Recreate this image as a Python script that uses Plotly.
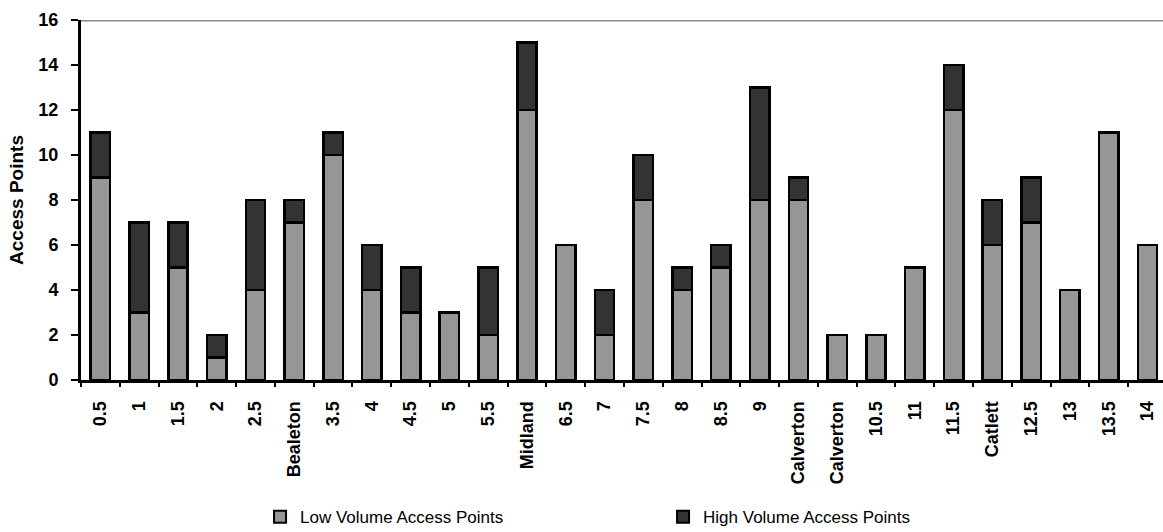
import plotly.graph_objects as go

# Mile markers / place names along the corridor
categories = ["0.5", "1", "1.5", "2", "2.5", "Bealeton", "3.5", "4", "4.5", "5",
              "5.5", "Midland", "6.5", "7", "7.5", "8", "8.5", "9", "Calverton",
              "Calverton", "10.5", "11", "11.5", "Catlett", "12.5", "13", "13.5", "14"]
low_volume = [9, 3, 5, 1, 4, 7, 10, 4, 3, 3, 2, 12, 6, 2, 8, 4, 5, 8, 8, 2, 2, 5, 12, 6, 7, 4, 11, 6]
high_volume = [2, 4, 2, 1, 4, 1, 1, 2, 2, 0, 3, 3, 0, 2, 2, 1, 1, 5, 1, 0, 0, 0, 2, 2, 2, 0, 0, 0]
y_ticks = [0, 2, 4, 6, 8, 10, 12, 14, 16]

pos = list(range(len(categories)))
font_family = "Liberation Sans, Arial, sans-serif"
bold = dict(family=font_family, size=18, color="black", weight="bold")

fig = go.Figure()
fig.add_trace(go.Bar(
    x=pos, y=low_volume, name="Low Volume Access Points",
    marker=dict(color="#969696", line=dict(color="black", width=2.5)),
    width=0.5,
))
fig.add_trace(go.Bar(
    x=pos, y=high_volume, name="High Volume Access Points",
    marker=dict(color="#333333", line=dict(color="black", width=2.5)),
    width=0.5,
))
# invisible helper trace so the boundary-tick axis is drawn
fig.add_trace(go.Scatter(x=[pos[0]], y=[0], xaxis="x2", mode="markers",
                         marker=dict(opacity=0), showlegend=False, hoverinfo="skip"))

x_range = [-0.5, len(categories) - 0.6]

fig.update_layout(
    barmode="stack",
    width=1163, height=532,
    margin=dict(l=81, r=0, t=20, b=152),
    plot_bgcolor="white", paper_bgcolor="white",
    font=dict(family=font_family, size=17, color="black"),
    xaxis=dict(
        range=x_range, tickmode="array", tickvals=pos, ticktext=categories,
        tickangle=-90, ticks="", showgrid=False, zeroline=False,
        showline=True, linecolor="black", linewidth=3,
        tickfont=bold, ticklabelstandoff=11, automargin=False,
    ),
    xaxis2=dict(
        overlaying="x", anchor="y", matches="x", range=x_range,
        tickmode="array", tickvals=[p - 0.5 for p in pos] + [pos[-1] + 0.5],
        showticklabels=False, ticks="outside", ticklen=6, tickwidth=2, tickcolor="black",
        showgrid=False, zeroline=False, showline=False,
    ),
    yaxis=dict(
        range=[0, 16], tickmode="array", tickvals=y_ticks,
        ticks="outside", ticklen=7, tickwidth=2, tickcolor="black",
        showgrid=False, zeroline=False, automargin=False,
        showline=True, linecolor="black", linewidth=3,
        tickfont=bold, ticklabelstandoff=9,
        title=dict(text="Access Points",
                   font=dict(family=font_family, size=19, color="black", weight="bold"),
                   standoff=10),
    ),
    legend=dict(
        orientation="h", xref="container", yref="container",
        x=0.2236, xanchor="left", y=0.028, yanchor="middle",
        font=dict(family=font_family, size=17, color="black"),
        entrywidth=358, entrywidthmode="pixels",
        itemsizing="constant", traceorder="normal",
    ),
    shapes=[dict(type="line", xref="paper", yref="y", x0=0, x1=1, y0=16, y1=16,
                 line=dict(color="#8c8c8c", width=3), layer="below")],
    bargap=0.5,
)

fig.write_html("out.html")
